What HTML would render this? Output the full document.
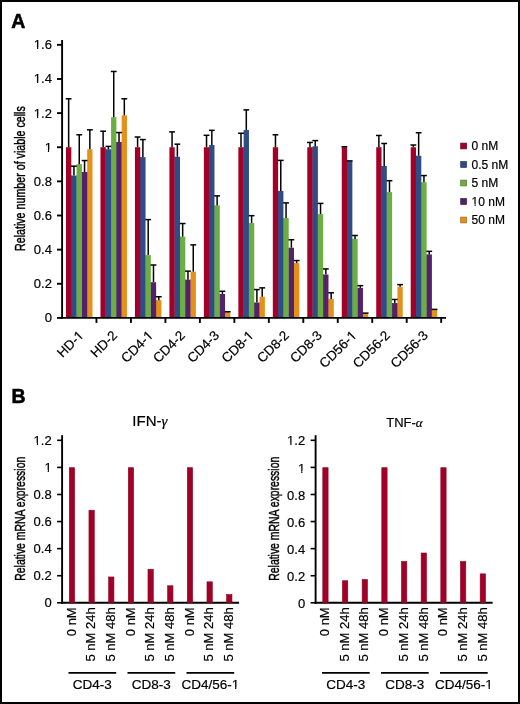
<!DOCTYPE html>
<html><head><meta charset="utf-8"><style>
html,body{margin:0;padding:0;background:#fff;}
body{width:520px;height:704px;overflow:hidden;}
svg{display:block;will-change:transform;}
text{font-family:"Liberation Sans",sans-serif;fill:#000;stroke:#000;stroke-width:0.2px;}
.t13{font-size:13px;}
.t12{font-size:12px;}
.tk135{font-size:13.5px;}
.t134{font-size:13.4px;}
.t135{font-size:13.5px;}
.t15{font-size:15px;}
.t155{font-size:15.5px;stroke:#000;stroke-width:0.45px;}
.pl{font-size:19.5px;font-weight:bold;stroke-width:0.55px;}
.gr{font-family:"Liberation Serif",serif;font-style:italic;}
.ax{stroke:#000;stroke-width:1.9;}
.eb{stroke:#000;stroke-width:1.5;}
.tk{stroke-width:1.6;}
</style></head><body>
<svg width="520" height="704" viewBox="0 0 520 704">
<rect x="1" y="1" width="518" height="702" fill="#fff" stroke="#000" stroke-width="2"/>
<rect x="66" y="147.24" width="5.3" height="170.66" fill="#a30027"/>
<rect x="71.1" y="175.57" width="1" height="142.33" fill="#a30027"/>
<rect x="71.3" y="175.57" width="5.3" height="142.33" fill="#2e4c86"/>
<rect x="76.4" y="175.57" width="1" height="142.33" fill="#2e4c86"/>
<rect x="76.6" y="164.14" width="5.3" height="153.76" fill="#6cae43"/>
<rect x="81.7" y="171.99" width="1" height="145.91" fill="#6cae43"/>
<rect x="81.9" y="171.99" width="5.3" height="145.91" fill="#54226a"/>
<rect x="87" y="171.99" width="1" height="145.91" fill="#54226a"/>
<rect x="87.2" y="149.29" width="5.3" height="168.61" fill="#e4901a"/>
<rect x="100.47" y="147.24" width="5.3" height="170.66" fill="#a30027"/>
<rect x="105.57" y="149.29" width="1" height="168.61" fill="#a30027"/>
<rect x="105.77" y="149.29" width="5.3" height="168.61" fill="#2e4c86"/>
<rect x="110.87" y="149.29" width="1" height="168.61" fill="#2e4c86"/>
<rect x="111.07" y="117.2" width="5.3" height="200.7" fill="#6cae43"/>
<rect x="116.17" y="141.95" width="1" height="175.95" fill="#6cae43"/>
<rect x="116.37" y="141.95" width="5.3" height="175.95" fill="#54226a"/>
<rect x="121.47" y="141.95" width="1" height="175.95" fill="#54226a"/>
<rect x="121.67" y="115.33" width="5.3" height="202.57" fill="#e4901a"/>
<rect x="134.94" y="147.24" width="5.3" height="170.66" fill="#a30027"/>
<rect x="140.04" y="157.14" width="1" height="160.76" fill="#a30027"/>
<rect x="140.24" y="157.14" width="5.3" height="160.76" fill="#2e4c86"/>
<rect x="145.34" y="255.1" width="1" height="62.8" fill="#2e4c86"/>
<rect x="145.54" y="255.1" width="5.3" height="62.8" fill="#6cae43"/>
<rect x="150.64" y="282.23" width="1" height="35.67" fill="#6cae43"/>
<rect x="150.84" y="282.23" width="5.3" height="35.67" fill="#54226a"/>
<rect x="155.94" y="300.15" width="1" height="17.75" fill="#54226a"/>
<rect x="156.14" y="300.15" width="5.3" height="17.75" fill="#e4901a"/>
<rect x="169.41" y="147.24" width="5.3" height="170.66" fill="#a30027"/>
<rect x="174.51" y="156.8" width="1" height="161.1" fill="#a30027"/>
<rect x="174.71" y="156.8" width="5.3" height="161.1" fill="#2e4c86"/>
<rect x="179.81" y="236.67" width="1" height="81.23" fill="#2e4c86"/>
<rect x="180.01" y="236.67" width="5.3" height="81.23" fill="#6cae43"/>
<rect x="185.11" y="279.67" width="1" height="38.23" fill="#6cae43"/>
<rect x="185.31" y="279.67" width="5.3" height="38.23" fill="#54226a"/>
<rect x="190.41" y="279.67" width="1" height="38.23" fill="#54226a"/>
<rect x="190.61" y="271.65" width="5.3" height="46.25" fill="#e4901a"/>
<rect x="203.88" y="147.24" width="5.3" height="170.66" fill="#a30027"/>
<rect x="208.98" y="147.24" width="1" height="170.66" fill="#a30027"/>
<rect x="209.18" y="145.02" width="5.3" height="172.88" fill="#2e4c86"/>
<rect x="214.28" y="205.44" width="1" height="112.46" fill="#2e4c86"/>
<rect x="214.48" y="205.44" width="5.3" height="112.46" fill="#6cae43"/>
<rect x="219.58" y="294.01" width="1" height="23.89" fill="#6cae43"/>
<rect x="219.78" y="294.01" width="5.3" height="23.89" fill="#54226a"/>
<rect x="224.88" y="312.44" width="1" height="5.46" fill="#54226a"/>
<rect x="225.08" y="312.44" width="5.3" height="5.46" fill="#e4901a"/>
<rect x="238.35" y="147.24" width="5.3" height="170.66" fill="#a30027"/>
<rect x="243.45" y="147.24" width="1" height="170.66" fill="#a30027"/>
<rect x="243.65" y="130" width="5.3" height="187.9" fill="#2e4c86"/>
<rect x="248.75" y="223.01" width="1" height="94.89" fill="#2e4c86"/>
<rect x="248.95" y="223.01" width="5.3" height="94.89" fill="#6cae43"/>
<rect x="254.05" y="302.54" width="1" height="15.36" fill="#6cae43"/>
<rect x="254.25" y="302.54" width="5.3" height="15.36" fill="#54226a"/>
<rect x="259.35" y="302.54" width="1" height="15.36" fill="#54226a"/>
<rect x="259.55" y="296.74" width="5.3" height="21.16" fill="#e4901a"/>
<rect x="272.82" y="147.24" width="5.3" height="170.66" fill="#a30027"/>
<rect x="277.92" y="190.93" width="1" height="126.97" fill="#a30027"/>
<rect x="278.12" y="190.93" width="5.3" height="126.97" fill="#2e4c86"/>
<rect x="283.22" y="218.06" width="1" height="99.84" fill="#2e4c86"/>
<rect x="283.42" y="218.06" width="5.3" height="99.84" fill="#6cae43"/>
<rect x="288.52" y="247.76" width="1" height="70.14" fill="#6cae43"/>
<rect x="288.72" y="247.76" width="5.3" height="70.14" fill="#54226a"/>
<rect x="293.82" y="263.12" width="1" height="54.78" fill="#54226a"/>
<rect x="294.02" y="263.12" width="5.3" height="54.78" fill="#e4901a"/>
<rect x="307.29" y="147.24" width="5.3" height="170.66" fill="#a30027"/>
<rect x="312.39" y="147.24" width="1" height="170.66" fill="#a30027"/>
<rect x="312.59" y="146.22" width="5.3" height="171.68" fill="#2e4c86"/>
<rect x="317.69" y="214.14" width="1" height="103.76" fill="#2e4c86"/>
<rect x="317.89" y="214.14" width="5.3" height="103.76" fill="#6cae43"/>
<rect x="322.99" y="274.55" width="1" height="43.35" fill="#6cae43"/>
<rect x="323.19" y="274.55" width="5.3" height="43.35" fill="#54226a"/>
<rect x="328.29" y="298.96" width="1" height="18.94" fill="#54226a"/>
<rect x="328.49" y="298.96" width="5.3" height="18.94" fill="#e4901a"/>
<rect x="341.76" y="147.24" width="5.3" height="170.66" fill="#a30027"/>
<rect x="346.86" y="161.23" width="1" height="156.67" fill="#a30027"/>
<rect x="347.06" y="161.23" width="5.3" height="156.67" fill="#2e4c86"/>
<rect x="352.16" y="238.88" width="1" height="79.02" fill="#2e4c86"/>
<rect x="352.36" y="238.88" width="5.3" height="79.02" fill="#6cae43"/>
<rect x="357.46" y="287.86" width="1" height="30.04" fill="#6cae43"/>
<rect x="357.66" y="287.86" width="5.3" height="30.04" fill="#54226a"/>
<rect x="362.76" y="313.63" width="1" height="4.27" fill="#54226a"/>
<rect x="362.96" y="313.63" width="5.3" height="4.27" fill="#e4901a"/>
<rect x="376.23" y="147.24" width="5.3" height="170.66" fill="#a30027"/>
<rect x="381.33" y="166.01" width="1" height="151.89" fill="#a30027"/>
<rect x="381.53" y="166.01" width="5.3" height="151.89" fill="#2e4c86"/>
<rect x="386.63" y="192.12" width="1" height="125.78" fill="#2e4c86"/>
<rect x="386.83" y="192.12" width="5.3" height="125.78" fill="#6cae43"/>
<rect x="391.93" y="303.05" width="1" height="14.85" fill="#6cae43"/>
<rect x="392.13" y="303.05" width="5.3" height="14.85" fill="#54226a"/>
<rect x="397.23" y="303.05" width="1" height="14.85" fill="#54226a"/>
<rect x="397.43" y="286.84" width="5.3" height="31.06" fill="#e4901a"/>
<rect x="410.7" y="147.24" width="5.3" height="170.66" fill="#a30027"/>
<rect x="415.8" y="155.77" width="1" height="162.13" fill="#a30027"/>
<rect x="416" y="155.77" width="5.3" height="162.13" fill="#2e4c86"/>
<rect x="421.1" y="182.23" width="1" height="135.67" fill="#2e4c86"/>
<rect x="421.3" y="182.23" width="5.3" height="135.67" fill="#6cae43"/>
<rect x="426.4" y="254.41" width="1" height="63.49" fill="#6cae43"/>
<rect x="426.6" y="254.41" width="5.3" height="63.49" fill="#54226a"/>
<rect x="431.7" y="309.88" width="1" height="8.02" fill="#54226a"/>
<rect x="431.9" y="309.88" width="5.3" height="8.02" fill="#e4901a"/>
<line x1="68.65" y1="147.24" x2="68.65" y2="98.77" class="eb"/>
<line x1="65.75" y1="98.77" x2="71.55" y2="98.77" class="eb"/>
<line x1="73.95" y1="175.57" x2="73.95" y2="166.18" class="eb"/>
<line x1="71.05" y1="166.18" x2="76.85" y2="166.18" class="eb"/>
<line x1="79.25" y1="164.14" x2="79.25" y2="134.78" class="eb"/>
<line x1="76.35" y1="134.78" x2="82.15" y2="134.78" class="eb"/>
<line x1="84.55" y1="171.99" x2="84.55" y2="160.55" class="eb"/>
<line x1="81.65" y1="160.55" x2="87.45" y2="160.55" class="eb"/>
<line x1="89.85" y1="149.29" x2="89.85" y2="129.83" class="eb"/>
<line x1="86.95" y1="129.83" x2="92.75" y2="129.83" class="eb"/>
<line x1="103.12" y1="147.24" x2="103.12" y2="131.2" class="eb"/>
<line x1="100.22" y1="131.2" x2="106.02" y2="131.2" class="eb"/>
<line x1="108.42" y1="149.29" x2="108.42" y2="146.39" class="eb"/>
<line x1="105.52" y1="146.39" x2="111.32" y2="146.39" class="eb"/>
<line x1="113.72" y1="117.2" x2="113.72" y2="71.47" class="eb"/>
<line x1="110.82" y1="71.47" x2="116.62" y2="71.47" class="eb"/>
<line x1="119.02" y1="141.95" x2="119.02" y2="132.56" class="eb"/>
<line x1="116.12" y1="132.56" x2="121.92" y2="132.56" class="eb"/>
<line x1="124.32" y1="115.33" x2="124.32" y2="98.77" class="eb"/>
<line x1="121.42" y1="98.77" x2="127.22" y2="98.77" class="eb"/>
<line x1="137.59" y1="147.24" x2="137.59" y2="137" class="eb"/>
<line x1="134.69" y1="137" x2="140.49" y2="137" class="eb"/>
<line x1="142.89" y1="157.14" x2="142.89" y2="139.56" class="eb"/>
<line x1="139.99" y1="139.56" x2="145.79" y2="139.56" class="eb"/>
<line x1="148.19" y1="255.1" x2="148.19" y2="219.6" class="eb"/>
<line x1="145.29" y1="219.6" x2="151.09" y2="219.6" class="eb"/>
<line x1="153.49" y1="282.23" x2="153.49" y2="265" class="eb"/>
<line x1="150.59" y1="265" x2="156.39" y2="265" class="eb"/>
<line x1="158.79" y1="300.15" x2="158.79" y2="296.74" class="eb"/>
<line x1="155.89" y1="296.74" x2="161.69" y2="296.74" class="eb"/>
<line x1="172.06" y1="147.24" x2="172.06" y2="131.88" class="eb"/>
<line x1="169.16" y1="131.88" x2="174.96" y2="131.88" class="eb"/>
<line x1="177.36" y1="156.8" x2="177.36" y2="144.17" class="eb"/>
<line x1="174.46" y1="144.17" x2="180.26" y2="144.17" class="eb"/>
<line x1="182.66" y1="236.67" x2="182.66" y2="223.53" class="eb"/>
<line x1="179.76" y1="223.53" x2="185.56" y2="223.53" class="eb"/>
<line x1="187.96" y1="279.67" x2="187.96" y2="271.14" class="eb"/>
<line x1="185.06" y1="271.14" x2="190.86" y2="271.14" class="eb"/>
<line x1="193.26" y1="271.65" x2="193.26" y2="244.86" class="eb"/>
<line x1="190.36" y1="244.86" x2="196.16" y2="244.86" class="eb"/>
<line x1="206.53" y1="147.24" x2="206.53" y2="135.29" class="eb"/>
<line x1="203.63" y1="135.29" x2="209.43" y2="135.29" class="eb"/>
<line x1="211.83" y1="145.02" x2="211.83" y2="130.34" class="eb"/>
<line x1="208.93" y1="130.34" x2="214.73" y2="130.34" class="eb"/>
<line x1="217.13" y1="205.44" x2="217.13" y2="195.88" class="eb"/>
<line x1="214.23" y1="195.88" x2="220.03" y2="195.88" class="eb"/>
<line x1="222.43" y1="294.01" x2="222.43" y2="291.28" class="eb"/>
<line x1="219.53" y1="291.28" x2="225.33" y2="291.28" class="eb"/>
<line x1="227.73" y1="312.44" x2="227.73" y2="311.76" class="eb"/>
<line x1="224.83" y1="311.76" x2="230.63" y2="311.76" class="eb"/>
<line x1="241" y1="147.24" x2="241" y2="133.25" class="eb"/>
<line x1="238.1" y1="133.25" x2="243.9" y2="133.25" class="eb"/>
<line x1="246.3" y1="130" x2="246.3" y2="109.87" class="eb"/>
<line x1="243.4" y1="109.87" x2="249.2" y2="109.87" class="eb"/>
<line x1="251.6" y1="223.01" x2="251.6" y2="215.67" class="eb"/>
<line x1="248.7" y1="215.67" x2="254.5" y2="215.67" class="eb"/>
<line x1="256.9" y1="302.54" x2="256.9" y2="289.57" class="eb"/>
<line x1="254" y1="289.57" x2="259.8" y2="289.57" class="eb"/>
<line x1="262.2" y1="296.74" x2="262.2" y2="287.86" class="eb"/>
<line x1="259.3" y1="287.86" x2="265.1" y2="287.86" class="eb"/>
<line x1="275.47" y1="147.24" x2="275.47" y2="134.78" class="eb"/>
<line x1="272.57" y1="134.78" x2="278.37" y2="134.78" class="eb"/>
<line x1="280.77" y1="190.93" x2="280.77" y2="160.38" class="eb"/>
<line x1="277.87" y1="160.38" x2="283.67" y2="160.38" class="eb"/>
<line x1="286.07" y1="218.06" x2="286.07" y2="202.88" class="eb"/>
<line x1="283.17" y1="202.88" x2="288.97" y2="202.88" class="eb"/>
<line x1="291.37" y1="247.76" x2="291.37" y2="239.74" class="eb"/>
<line x1="288.47" y1="239.74" x2="294.27" y2="239.74" class="eb"/>
<line x1="296.67" y1="263.12" x2="296.67" y2="260.56" class="eb"/>
<line x1="293.77" y1="260.56" x2="299.57" y2="260.56" class="eb"/>
<line x1="309.94" y1="147.24" x2="309.94" y2="142.46" class="eb"/>
<line x1="307.04" y1="142.46" x2="312.84" y2="142.46" class="eb"/>
<line x1="315.24" y1="146.22" x2="315.24" y2="140.58" class="eb"/>
<line x1="312.34" y1="140.58" x2="318.14" y2="140.58" class="eb"/>
<line x1="320.54" y1="214.14" x2="320.54" y2="203.39" class="eb"/>
<line x1="317.64" y1="203.39" x2="323.44" y2="203.39" class="eb"/>
<line x1="325.84" y1="274.55" x2="325.84" y2="268.92" class="eb"/>
<line x1="322.94" y1="268.92" x2="328.74" y2="268.92" class="eb"/>
<line x1="331.14" y1="298.96" x2="331.14" y2="292.81" class="eb"/>
<line x1="328.24" y1="292.81" x2="334.04" y2="292.81" class="eb"/>
<line x1="344.41" y1="147.24" x2="344.41" y2="146.73" class="eb"/>
<line x1="341.51" y1="146.73" x2="347.31" y2="146.73" class="eb"/>
<line x1="346.81" y1="160.89" x2="352.61" y2="160.89" class="eb"/>
<line x1="355.01" y1="238.88" x2="355.01" y2="235.47" class="eb"/>
<line x1="352.11" y1="235.47" x2="357.91" y2="235.47" class="eb"/>
<line x1="360.31" y1="287.86" x2="360.31" y2="285.65" class="eb"/>
<line x1="357.41" y1="285.65" x2="363.21" y2="285.65" class="eb"/>
<line x1="365.61" y1="313.63" x2="365.61" y2="313.12" class="eb"/>
<line x1="362.71" y1="313.12" x2="368.51" y2="313.12" class="eb"/>
<line x1="378.88" y1="147.24" x2="378.88" y2="135.46" class="eb"/>
<line x1="375.98" y1="135.46" x2="381.78" y2="135.46" class="eb"/>
<line x1="384.18" y1="166.01" x2="384.18" y2="143.49" class="eb"/>
<line x1="381.28" y1="143.49" x2="387.08" y2="143.49" class="eb"/>
<line x1="389.48" y1="192.12" x2="389.48" y2="180.69" class="eb"/>
<line x1="386.58" y1="180.69" x2="392.38" y2="180.69" class="eb"/>
<line x1="394.78" y1="303.05" x2="394.78" y2="299.47" class="eb"/>
<line x1="391.88" y1="299.47" x2="397.68" y2="299.47" class="eb"/>
<line x1="400.08" y1="286.84" x2="400.08" y2="284.62" class="eb"/>
<line x1="397.18" y1="284.62" x2="402.98" y2="284.62" class="eb"/>
<line x1="413.35" y1="147.24" x2="413.35" y2="145.02" class="eb"/>
<line x1="410.45" y1="145.02" x2="416.25" y2="145.02" class="eb"/>
<line x1="418.65" y1="155.77" x2="418.65" y2="132.73" class="eb"/>
<line x1="415.75" y1="132.73" x2="421.55" y2="132.73" class="eb"/>
<line x1="423.95" y1="182.23" x2="423.95" y2="175.57" class="eb"/>
<line x1="421.05" y1="175.57" x2="426.85" y2="175.57" class="eb"/>
<line x1="429.25" y1="254.41" x2="429.25" y2="251.34" class="eb"/>
<line x1="426.35" y1="251.34" x2="432.15" y2="251.34" class="eb"/>
<line x1="434.55" y1="309.88" x2="434.55" y2="309.37" class="eb"/>
<line x1="431.65" y1="309.37" x2="437.45" y2="309.37" class="eb"/>
<line x1="62.1" y1="40" x2="62.1" y2="318.79999999999995" class="ax"/>
<line x1="61.2" y1="317.9" x2="446" y2="317.9" class="ax"/>
<line x1="57" y1="317.9" x2="62" y2="317.9" class="ax"/>
<text transform="translate(51.9,322.3) scale(0.965,1)" class="tk135" text-anchor="end">0</text>
<line x1="57" y1="283.77" x2="62" y2="283.77" class="ax"/>
<text transform="translate(51.9,288.17) scale(0.965,1)" class="tk135" text-anchor="end">0.2</text>
<line x1="57" y1="249.64" x2="62" y2="249.64" class="ax"/>
<text transform="translate(51.9,254.04) scale(0.965,1)" class="tk135" text-anchor="end">0.4</text>
<line x1="57" y1="215.5" x2="62" y2="215.5" class="ax"/>
<text transform="translate(51.9,219.9) scale(0.965,1)" class="tk135" text-anchor="end">0.6</text>
<line x1="57" y1="181.37" x2="62" y2="181.37" class="ax"/>
<text transform="translate(51.9,185.77) scale(0.965,1)" class="tk135" text-anchor="end">0.8</text>
<line x1="57" y1="147.24" x2="62" y2="147.24" class="ax"/>
<text transform="translate(51.9,151.64) scale(0.965,1)" class="tk135" text-anchor="end">1</text>
<line x1="57" y1="113.11" x2="62" y2="113.11" class="ax"/>
<text transform="translate(51.9,117.51) scale(0.965,1)" class="tk135" text-anchor="end">1.2</text>
<line x1="57" y1="78.98" x2="62" y2="78.98" class="ax"/>
<text transform="translate(51.9,83.38) scale(0.965,1)" class="tk135" text-anchor="end">1.4</text>
<line x1="57" y1="44.84" x2="62" y2="44.84" class="ax"/>
<text transform="translate(51.9,49.24) scale(0.965,1)" class="tk135" text-anchor="end">1.6</text>
<line x1="96.47" y1="317.9" x2="96.47" y2="322.9" class="ax"/>
<line x1="130.94" y1="317.9" x2="130.94" y2="322.9" class="ax"/>
<line x1="165.41" y1="317.9" x2="165.41" y2="322.9" class="ax"/>
<line x1="199.88" y1="317.9" x2="199.88" y2="322.9" class="ax"/>
<line x1="234.35" y1="317.9" x2="234.35" y2="322.9" class="ax"/>
<line x1="268.82" y1="317.9" x2="268.82" y2="322.9" class="ax"/>
<line x1="303.29" y1="317.9" x2="303.29" y2="322.9" class="ax"/>
<line x1="337.76" y1="317.9" x2="337.76" y2="322.9" class="ax"/>
<line x1="372.23" y1="317.9" x2="372.23" y2="322.9" class="ax"/>
<line x1="406.7" y1="317.9" x2="406.7" y2="322.9" class="ax"/>
<line x1="441.17" y1="317.9" x2="441.17" y2="322.9" class="ax"/>
<text transform="translate(84.63,336.2) rotate(-45)" class="t134" text-anchor="end">HD-1</text>
<text transform="translate(118.1,336.2) rotate(-45)" class="t134" text-anchor="end">HD-2</text>
<text transform="translate(153.98,336.2) rotate(-45)" class="t134" text-anchor="end">CD4-1</text>
<text transform="translate(185.84,336.2) rotate(-45)" class="t134" text-anchor="end">CD4-2</text>
<text transform="translate(220.02,336.2) rotate(-45)" class="t134" text-anchor="end">CD4-3</text>
<text transform="translate(254.48,336.2) rotate(-45)" class="t134" text-anchor="end">CD8-1</text>
<text transform="translate(289.86,336.2) rotate(-45)" class="t134" text-anchor="end">CD8-2</text>
<text transform="translate(322.82,336.2) rotate(-45)" class="t134" text-anchor="end">CD8-3</text>
<text transform="translate(357.5,336.2) rotate(-45)" class="t134" text-anchor="end">CD56-1</text>
<text transform="translate(390.87,336.2) rotate(-45)" class="t134" text-anchor="end">CD56-2</text>
<text transform="translate(428.74,336.2) rotate(-45)" class="t134" text-anchor="end">CD56-3</text>
<text transform="translate(24.9,178.6) rotate(-90) scale(0.69,1)" class="t155" text-anchor="middle">Relative number of viable cells</text>
<rect x="460.7" y="143.1" width="5.9" height="5.8" fill="#a30027" stroke="#72001b" stroke-width="0.7"/>
<text x="471.6" y="150" class="t12">0 nM</text>
<rect x="460.7" y="161.6" width="5.9" height="5.8" fill="#2e4c86" stroke="#20355d" stroke-width="0.7"/>
<text x="471.6" y="168.5" class="t12">0.5 nM</text>
<rect x="460.7" y="180.1" width="5.9" height="5.8" fill="#6cae43" stroke="#4b792e" stroke-width="0.7"/>
<text x="471.6" y="187" class="t12">5 nM</text>
<rect x="460.7" y="198.6" width="5.9" height="5.8" fill="#54226a" stroke="#3a174a" stroke-width="0.7"/>
<text x="471.6" y="205.5" class="t12">10 nM</text>
<rect x="460.7" y="217.1" width="5.9" height="5.8" fill="#e4901a" stroke="#9f6412" stroke-width="0.7"/>
<text x="471.6" y="224" class="t12">50 nM</text>
<line x1="62.1" y1="435.2" x2="62.1" y2="603.6999999999999" class="ax"/>
<line x1="61.2" y1="602.8" x2="239.1" y2="602.8" class="ax"/>
<line x1="57.1" y1="602.8" x2="62.1" y2="602.8" class="ax tk"/>
<text transform="translate(51.7,607.2) scale(0.965,1)" class="tk135" text-anchor="end">0</text>
<line x1="57.1" y1="575.72" x2="62.1" y2="575.72" class="ax tk"/>
<text transform="translate(51.7,580.12) scale(0.965,1)" class="tk135" text-anchor="end">0.2</text>
<line x1="57.1" y1="548.64" x2="62.1" y2="548.64" class="ax tk"/>
<text transform="translate(51.7,553.04) scale(0.965,1)" class="tk135" text-anchor="end">0.4</text>
<line x1="57.1" y1="521.56" x2="62.1" y2="521.56" class="ax tk"/>
<text transform="translate(51.7,525.96) scale(0.965,1)" class="tk135" text-anchor="end">0.6</text>
<line x1="57.1" y1="494.48" x2="62.1" y2="494.48" class="ax tk"/>
<text transform="translate(51.7,498.88) scale(0.965,1)" class="tk135" text-anchor="end">0.8</text>
<line x1="57.1" y1="467.4" x2="62.1" y2="467.4" class="ax tk"/>
<text transform="translate(51.7,471.8) scale(0.965,1)" class="tk135" text-anchor="end">1</text>
<line x1="57.1" y1="440.32" x2="62.1" y2="440.32" class="ax tk"/>
<text transform="translate(51.7,444.72) scale(0.965,1)" class="tk135" text-anchor="end">1.2</text>
<rect x="69.3" y="467.7" width="5.3" height="135.1" fill="#a30027" stroke="#8a0021" stroke-width="0.6"/>
<text transform="translate(75.65,607.3) rotate(-90)" class="t13" text-anchor="end">0 nM</text>
<rect x="88.97" y="510.22" width="5.3" height="92.58" fill="#a30027" stroke="#8a0021" stroke-width="0.6"/>
<text transform="translate(95.32,607.3) rotate(-90)" class="t13" text-anchor="end">5 nM 24h</text>
<rect x="108.64" y="576.97" width="5.3" height="25.83" fill="#a30027" stroke="#8a0021" stroke-width="0.6"/>
<text transform="translate(114.99,607.3) rotate(-90)" class="t13" text-anchor="end">5 nM 48h</text>
<rect x="128.31" y="467.7" width="5.3" height="135.1" fill="#a30027" stroke="#8a0021" stroke-width="0.6"/>
<text transform="translate(134.66,607.3) rotate(-90)" class="t13" text-anchor="end">0 nM</text>
<rect x="147.98" y="569.25" width="5.3" height="33.55" fill="#a30027" stroke="#8a0021" stroke-width="0.6"/>
<text transform="translate(154.33,607.3) rotate(-90)" class="t13" text-anchor="end">5 nM 24h</text>
<rect x="167.65" y="585.77" width="5.3" height="17.03" fill="#a30027" stroke="#8a0021" stroke-width="0.6"/>
<text transform="translate(174,607.3) rotate(-90)" class="t13" text-anchor="end">5 nM 48h</text>
<rect x="187.32" y="467.7" width="5.3" height="135.1" fill="#a30027" stroke="#8a0021" stroke-width="0.6"/>
<text transform="translate(193.67,607.3) rotate(-90)" class="t13" text-anchor="end">0 nM</text>
<rect x="206.99" y="581.84" width="5.3" height="20.96" fill="#a30027" stroke="#8a0021" stroke-width="0.6"/>
<text transform="translate(213.34,607.3) rotate(-90)" class="t13" text-anchor="end">5 nM 24h</text>
<rect x="226.66" y="594.57" width="5.3" height="8.23" fill="#a30027" stroke="#8a0021" stroke-width="0.6"/>
<text transform="translate(233.01,607.3) rotate(-90)" class="t13" text-anchor="end">5 nM 48h</text>
<line x1="68.5" y1="672.9" x2="116.2" y2="672.9" class="ax tk"/>
<text x="92.35" y="689.3" class="t135" text-anchor="middle">CD4-3</text>
<line x1="127.5" y1="672.9" x2="175.2" y2="672.9" class="ax tk"/>
<text x="151.35" y="689.3" class="t135" text-anchor="middle">CD8-3</text>
<line x1="186.5" y1="672.9" x2="234.2" y2="672.9" class="ax tk"/>
<text x="210.35" y="689.3" class="t135" text-anchor="middle">CD4/56-1</text>
<text transform="translate(25.1,518.75) rotate(-90) scale(0.673,1)" class="t155" text-anchor="middle">Relative mRNA expression</text>
<text x="132.3" y="426.1" class="t15">IFN-<tspan class="gr">γ</tspan></text>
<line x1="315.6" y1="435.2" x2="315.6" y2="603.6999999999999" class="ax"/>
<line x1="314.7" y1="602.8" x2="492.6" y2="602.8" class="ax"/>
<line x1="310.6" y1="602.8" x2="315.6" y2="602.8" class="ax tk"/>
<text transform="translate(305.2,607.9) scale(0.965,1)" class="tk135" text-anchor="end">0</text>
<line x1="310.6" y1="575.72" x2="315.6" y2="575.72" class="ax tk"/>
<text transform="translate(305.2,580.82) scale(0.965,1)" class="tk135" text-anchor="end">0.2</text>
<line x1="310.6" y1="548.64" x2="315.6" y2="548.64" class="ax tk"/>
<text transform="translate(305.2,553.74) scale(0.965,1)" class="tk135" text-anchor="end">0.4</text>
<line x1="310.6" y1="521.56" x2="315.6" y2="521.56" class="ax tk"/>
<text transform="translate(305.2,526.66) scale(0.965,1)" class="tk135" text-anchor="end">0.6</text>
<line x1="310.6" y1="494.48" x2="315.6" y2="494.48" class="ax tk"/>
<text transform="translate(305.2,499.58) scale(0.965,1)" class="tk135" text-anchor="end">0.8</text>
<line x1="310.6" y1="467.4" x2="315.6" y2="467.4" class="ax tk"/>
<text transform="translate(305.2,472.5) scale(0.965,1)" class="tk135" text-anchor="end">1</text>
<line x1="310.6" y1="440.32" x2="315.6" y2="440.32" class="ax tk"/>
<text transform="translate(305.2,445.42) scale(0.965,1)" class="tk135" text-anchor="end">1.2</text>
<rect x="322.8" y="467.7" width="5.3" height="135.1" fill="#a30027" stroke="#8a0021" stroke-width="0.6"/>
<text transform="translate(329.15,607.3) rotate(-90)" class="t13" text-anchor="end">0 nM</text>
<rect x="342.47" y="580.76" width="5.3" height="22.04" fill="#a30027" stroke="#8a0021" stroke-width="0.6"/>
<text transform="translate(348.82,607.3) rotate(-90)" class="t13" text-anchor="end">5 nM 24h</text>
<rect x="362.14" y="579.54" width="5.3" height="23.26" fill="#a30027" stroke="#8a0021" stroke-width="0.6"/>
<text transform="translate(368.49,607.3) rotate(-90)" class="t13" text-anchor="end">5 nM 48h</text>
<rect x="381.81" y="467.7" width="5.3" height="135.1" fill="#a30027" stroke="#8a0021" stroke-width="0.6"/>
<text transform="translate(388.16,607.3) rotate(-90)" class="t13" text-anchor="end">0 nM</text>
<rect x="401.48" y="561.53" width="5.3" height="41.27" fill="#a30027" stroke="#8a0021" stroke-width="0.6"/>
<text transform="translate(407.83,607.3) rotate(-90)" class="t13" text-anchor="end">5 nM 24h</text>
<rect x="421.15" y="553" width="5.3" height="49.8" fill="#a30027" stroke="#8a0021" stroke-width="0.6"/>
<text transform="translate(427.5,607.3) rotate(-90)" class="t13" text-anchor="end">5 nM 48h</text>
<rect x="440.82" y="467.7" width="5.3" height="135.1" fill="#a30027" stroke="#8a0021" stroke-width="0.6"/>
<text transform="translate(447.17,607.3) rotate(-90)" class="t13" text-anchor="end">0 nM</text>
<rect x="460.49" y="561.53" width="5.3" height="41.27" fill="#a30027" stroke="#8a0021" stroke-width="0.6"/>
<text transform="translate(466.84,607.3) rotate(-90)" class="t13" text-anchor="end">5 nM 24h</text>
<rect x="480.16" y="573.85" width="5.3" height="28.95" fill="#a30027" stroke="#8a0021" stroke-width="0.6"/>
<text transform="translate(486.51,607.3) rotate(-90)" class="t13" text-anchor="end">5 nM 48h</text>
<line x1="322" y1="672.9" x2="369.7" y2="672.9" class="ax tk"/>
<text x="345.85" y="689.3" class="t135" text-anchor="middle">CD4-3</text>
<line x1="381" y1="672.9" x2="428.7" y2="672.9" class="ax tk"/>
<text x="404.85" y="689.3" class="t135" text-anchor="middle">CD8-3</text>
<line x1="440" y1="672.9" x2="487.7" y2="672.9" class="ax tk"/>
<text x="463.85" y="689.3" class="t135" text-anchor="middle">CD4/56-1</text>
<text transform="translate(278.6,518.75) rotate(-90) scale(0.673,1)" class="t155" text-anchor="middle">Relative mRNA expression</text>
<text x="386.2" y="426.9" class="t13">TNF-<tspan class="gr">α</tspan></text>
<text x="11.3" y="27.9" class="pl">A</text>
<text x="11.5" y="402.8" class="pl">B</text>
<g transform="translate(51.9,151.64) scale(0.965,1)" fill="#fff"><rect x="-7.38" y="-1.71" width="3.25" height="2.66"/><rect x="-2.9" y="-1.71" width="3.16" height="2.66"/></g>
<g transform="translate(51.9,117.51) scale(0.965,1)" fill="#fff"><rect x="-18.62" y="-1.71" width="3.25" height="2.66"/><rect x="-14.14" y="-1.71" width="3.16" height="2.66"/></g>
<g transform="translate(51.9,83.38) scale(0.965,1)" fill="#fff"><rect x="-18.62" y="-1.71" width="3.25" height="2.66"/><rect x="-14.14" y="-1.71" width="3.16" height="2.66"/></g>
<g transform="translate(51.9,49.24) scale(0.965,1)" fill="#fff"><rect x="-18.62" y="-1.71" width="3.25" height="2.66"/><rect x="-14.14" y="-1.71" width="3.16" height="2.66"/></g>
<g transform="translate(84.63,336.2) rotate(-45)" fill="#fff"><rect x="-7.33" y="-1.7" width="3.23" height="2.65"/><rect x="-2.88" y="-1.7" width="3.14" height="2.65"/></g>
<g transform="translate(153.98,336.2) rotate(-45)" fill="#fff"><rect x="-7.35" y="-1.7" width="3.23" height="2.65"/><rect x="-2.89" y="-1.7" width="3.14" height="2.65"/></g>
<g transform="translate(254.48,336.2) rotate(-45)" fill="#fff"><rect x="-7.35" y="-1.7" width="3.23" height="2.65"/><rect x="-2.89" y="-1.7" width="3.14" height="2.65"/></g>
<g transform="translate(357.5,336.2) rotate(-45)" fill="#fff"><rect x="-7.35" y="-1.7" width="3.23" height="2.65"/><rect x="-2.89" y="-1.7" width="3.14" height="2.65"/></g>
<g fill="#fff"><rect x="471.61" y="203.9" width="2.98" height="2.55"/><rect x="475.7" y="203.9" width="2.91" height="2.55"/></g>
<g transform="translate(51.7,471.8) scale(0.965,1)" fill="#fff"><rect x="-7.38" y="-1.71" width="3.25" height="2.66"/><rect x="-2.9" y="-1.71" width="3.16" height="2.66"/></g>
<g transform="translate(51.7,444.72) scale(0.965,1)" fill="#fff"><rect x="-18.62" y="-1.71" width="3.25" height="2.66"/><rect x="-14.14" y="-1.71" width="3.16" height="2.66"/></g>
<g fill="#fff"><rect x="231.85" y="687.59" width="3.25" height="2.66"/><rect x="236.33" y="687.59" width="3.16" height="2.66"/></g>
<g transform="translate(305.2,472.5) scale(0.965,1)" fill="#fff"><rect x="-7.38" y="-1.71" width="3.25" height="2.66"/><rect x="-2.9" y="-1.71" width="3.16" height="2.66"/></g>
<g transform="translate(305.2,445.42) scale(0.965,1)" fill="#fff"><rect x="-18.62" y="-1.71" width="3.25" height="2.66"/><rect x="-14.14" y="-1.71" width="3.16" height="2.66"/></g>
<g fill="#fff"><rect x="485.35" y="687.59" width="3.25" height="2.66"/><rect x="489.83" y="687.59" width="3.16" height="2.66"/></g>
</svg>
</body></html>
